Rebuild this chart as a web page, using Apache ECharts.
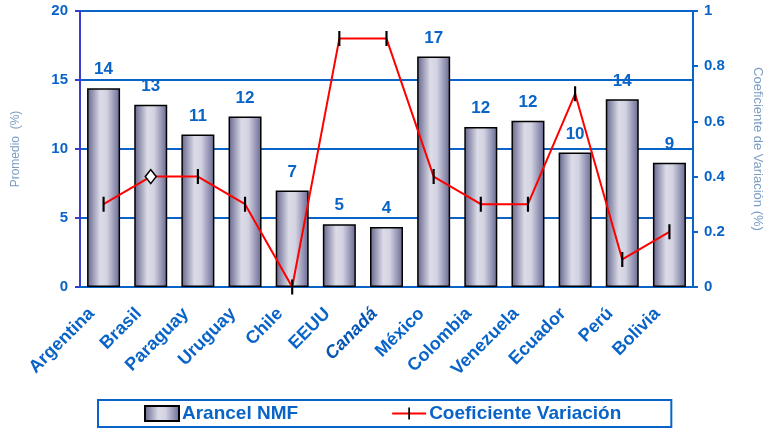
<!DOCTYPE html>
<html>
<head>
<meta charset="utf-8">
<script src="https://cdn.jsdelivr.net/npm/echarts@6/dist/echarts.min.js"></script>
<style>
  html, body { margin: 0; padding: 0; background: #fff; }
  #chart { width: 767px; height: 429px; }
</style>
</head>
<body>
<div id="chart"></div>
<script>
// países
var paises = ['Argentina', 'Brasil', 'Paraguay', 'Uruguay', 'Chile', 'EEUU', 'Canadá',
              'México', 'Colombia', 'Venezuela', 'Ecuador', 'Perú', 'Bolivia'];
// Arancel NMF promedio (%)
var arancel = [14.4, 13.2, 11.05, 12.35, 7.0, 4.55, 4.35, 16.7, 11.6, 12.05, 9.75, 13.6, 9.0];
// Coeficiente de variación
var coefVar = [0.3, 0.4, 0.4, 0.3, 0, 0.9, 0.9, 0.4, 0.3, 0.3, 0.7, 0.1, 0.2];
var ticksIzq = [0, 5, 10, 15, 20];
var ticksDer = [0, 0.2, 0.4, 0.6, 0.8, 1];

var azul = '#0a64c8';
var myChart = echarts.init(document.getElementById('chart'));

var barFill = new echarts.graphic.LinearGradient(0, 0, 1, 0, [
    { offset: 0, color: '#63638c' },
    { offset: 0.4, color: '#dcdce8' },
    { offset: 0.6, color: '#d2d2e2' },
    { offset: 1, color: '#686892' }
]);

// marca vertical (barra fina centrada en una caja cuadrada)
var marca = 'path://M0,0 L0,0 Z M6,0 L8,0 L8,14 L6,14 Z M14,14 L14,14 Z';

var lineData = coefVar.map(function (v, i) {
    if (paises[i] === 'Brasil') {
        return { value: v, symbol: 'diamond', symbolSize: [11, 14],
                 itemStyle: { color: '#fff', borderColor: '#000', borderWidth: 1.5 } };
    }
    return v;
});

var option = {
    animation: false,
    backgroundColor: '#fff',
    textStyle: { fontFamily: 'Liberation Sans, Arial, sans-serif' },
    grid: { left: 80, right: 74, top: 11, bottom: 142, outerBoundsMode: 'none', containLabel: false },
    legend: {
        bottom: 2,
        left: 98,
        padding: [4, 50, 4, 46],
        itemGap: 93,
        itemWidth: 34,
        itemHeight: 15,
        borderColor: azul,
        borderWidth: 2,
        borderRadius: 0,
        textStyle: { color: azul, fontSize: 19, fontWeight: 'bold', padding: [0, 0, 0, -2] },
        data: [
            { name: 'Arancel NMF', icon: 'rect' },
            { name: 'Coeficiente Variación' }
        ]
    },
    xAxis: {
        type: 'category',
        data: paises,
        axisLine: { lineStyle: { color: azul, width: 2 } },
        axisTick: { lineStyle: { color: azul, width: 2 }, length: 5 },
        axisLabel: {
            rotate: 45,
            interval: 0,
            margin: 12,
            padding: [0, 17, 0, 0],
            color: azul,
            fontSize: 18,
            fontWeight: 'bold',
            formatter: function (v) {
                return v === 'Canadá' ? '{c|' + v + '}' : v;
            },
            rich: { c: { fontStyle: 'italic', color: '#0654b4', fontSize: 18, fontWeight: 'bold' } }
        }
    },
    yAxis: [
        {
            type: 'value',
            min: ticksIzq[0],
            max: ticksIzq[ticksIzq.length - 1],
            interval: 5,
            name: 'Promedio  (%)',
            nameLocation: 'middle',
            nameGap: 58,
            nameTextStyle: { color: '#7a9cc4', fontSize: 12 },
            axisLine: { show: true, lineStyle: { color: '#3a3ccc', width: 2 } },
            axisTick: { show: true, length: 5, lineStyle: { color: '#3a3ccc', width: 2 } },
            axisLabel: { color: azul, fontSize: 15, fontWeight: 'bold', margin: 12 },
            splitLine: { lineStyle: { color: azul, width: 2 } }
        },
        {
            type: 'value',
            min: ticksDer[0],
            max: ticksDer[ticksDer.length - 1],
            interval: 0.2,
            position: 'right',
            name: 'Coeficiente de Variación (%)',
            nameLocation: 'middle',
            nameRotate: -90,
            nameGap: 58,
            nameTextStyle: { color: '#7a9cc4', fontSize: 13 },
            axisLine: { show: true, lineStyle: { color: azul, width: 2 } },
            axisTick: { show: true, length: 5, lineStyle: { color: azul, width: 2 } },
            axisLabel: { color: azul, fontSize: 15, fontWeight: 'bold', margin: 11 },
            splitLine: { show: false }
        }
    ],
    series: [
        {
            name: 'Arancel NMF',
            type: 'bar',
            data: arancel,
            barWidth: 33,
            itemStyle: { color: barFill, borderColor: '#000', borderWidth: 1.5 },
            label: {
                show: true,
                position: 'top',
                distance: 10,
                color: azul,
                fontSize: 17,
                fontWeight: 'bold',
                formatter: function (p) { return Math.round(p.value); }
            }
        },
        {
            name: 'Coeficiente Variación',
            type: 'line',
            yAxisIndex: 1,
            data: lineData,
            symbol: marca,
            symbolSize: 15,
            showAllSymbol: true,
            lineStyle: { color: '#ff0000', width: 2 },
            itemStyle: { color: '#000' },
            z: 5
        }
    ]
};

myChart.setOption(option);
</script>
</body>
</html>
